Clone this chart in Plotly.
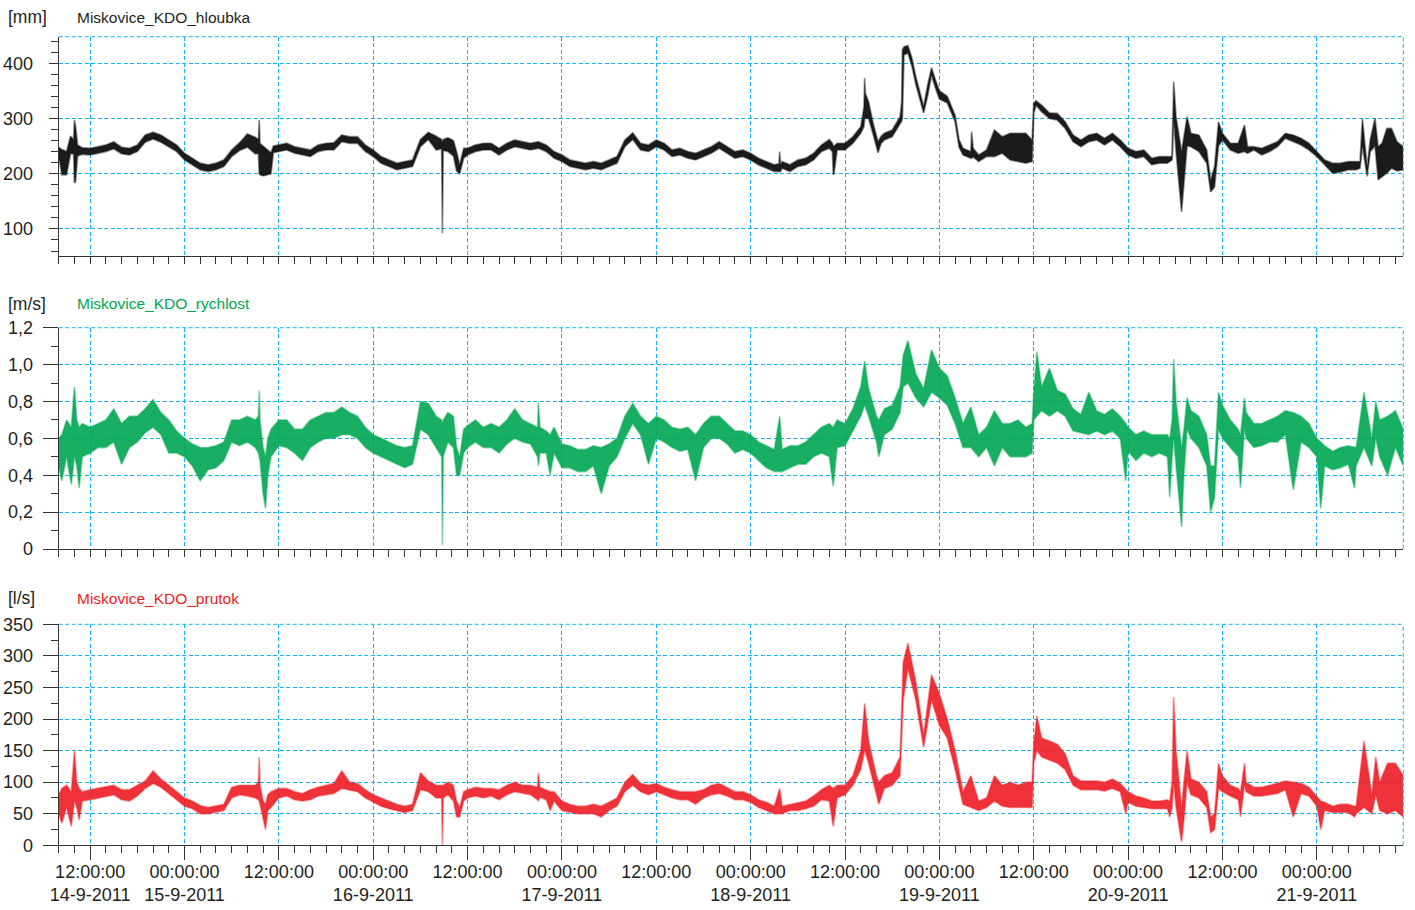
import plotly.graph_objects as go
from datetime import datetime, timedelta

# ---------------- data (hours after 14-9-2011 08:00) ----------------
DEPTH_T = [0, 0.4, 1, 1.5, 1.9, 2.0, 2.15, 2.4, 3, 4, 5, 6, 7, 8, 9, 10, 11, 12, 13, 14, 15, 16, 17, 18, 19, 20,
           21, 22, 23, 24, 25, 25.4, 25.5, 25.6, 26, 27, 27.3, 28, 29, 30, 31, 32, 33, 34, 35, 36, 37, 38, 39, 40,
           41, 42, 43, 44, 45, 46, 47, 48, 48.7, 48.8, 48.9, 49.5, 50.2, 50.6, 51, 51.5, 52, 53, 54, 55, 56, 57,
           58, 59, 60, 61, 62, 63, 64, 65, 66, 67, 68, 69, 70, 71, 72, 73, 74, 75, 76, 77, 78, 79, 80, 81, 82,
           83, 84, 85, 86, 87, 88, 89, 90, 91, 91.6, 91.7, 91.8, 92, 93, 94, 95, 96, 97, 98, 98.4, 98.5, 98.6,
           99, 100, 101, 102, 102.4, 102.5, 102.6, 103, 103.6, 104.2, 104.6, 105, 106, 107, 107.2, 107.3, 107.5,
           108, 108.5, 109, 109.6, 110, 110.5, 111, 111.5, 112, 113, 114, 114.5, 115, 116, 116.1, 116.3, 117, 118,
           119, 120, 121, 122, 123, 123.8, 124, 124.3, 125, 126, 127, 128, 129, 130, 131, 132, 133, 134, 135,
           136, 137, 138, 139, 140, 141, 141.6, 141.8, 142.1, 142.8, 143.5, 144, 145, 146, 146.5, 147, 147.5,
           148, 149, 150, 150.8, 151.2, 152, 153, 154, 155, 156, 157, 158, 159, 160, 161, 162, 163, 164, 165,
           165.5, 165.8, 166.4, 166.8, 167.4, 167.8, 168.3, 168.9, 169.5, 170.2, 171]
DEPTH_LO = [232, 198, 198, 236, 236, 183, 186, 232, 235, 234, 237, 240, 245, 236, 234, 240, 257, 263, 257, 249,
            240, 225, 216, 207, 204, 207, 213, 231, 242, 248, 236, 236, 200, 198, 196, 200, 238, 240, 243, 237,
            234, 231, 240, 243, 243, 258, 255, 255, 240, 231, 219, 213, 207, 210, 213, 249, 262, 243, 245, 92,
            242, 240, 232, 205, 200, 228, 234, 240, 243, 243, 234, 243, 249, 246, 243, 246, 240, 228, 222, 213,
            210, 207, 210, 207, 213, 219, 249, 262, 243, 240, 249, 243, 231, 234, 228, 225, 231, 237, 246, 237,
            228, 231, 225, 216, 210, 204, 204, 204, 204, 210, 204, 213, 216, 225, 240, 246, 240, 198, 200, 243,
            243, 255, 273, 285, 300, 300, 300, 270, 238, 255, 261, 267, 290, 295, 300, 415, 418, 395, 362, 330,
            310, 340, 378, 355, 335, 328, 294, 248, 234, 228, 228, 230, 222, 231, 231, 237, 225, 222, 219, 222,
            309, 324, 312, 300, 297, 282, 258, 249, 258, 261, 252, 261, 249, 234, 228, 231, 216, 219, 219, 225,
            300, 240, 131, 250, 249, 240, 219, 167, 176, 250, 261, 243, 237, 240, 237, 243, 234, 240, 249, 264,
            258, 252, 243, 231, 216, 201, 203, 207, 207, 210, 250, 195, 240, 250, 189, 195, 201, 210, 205, 207]
DEPTH_HI = [248, 244, 240, 268, 262, 297, 285, 252, 247, 246, 249, 252, 258, 248, 246, 252, 270, 275, 270, 261,
            252, 237, 228, 219, 216, 219, 225, 243, 256, 272, 266, 262, 297, 255, 250, 238, 250, 252, 255, 249,
            246, 243, 252, 255, 256, 270, 267, 267, 252, 243, 231, 225, 219, 222, 225, 262, 275, 268, 262, 258,
            262, 265, 260, 240, 216, 246, 246, 252, 255, 255, 246, 255, 261, 258, 255, 258, 252, 240, 234, 225,
            222, 219, 222, 219, 225, 231, 261, 274, 255, 252, 261, 255, 243, 246, 240, 237, 243, 249, 258, 249,
            240, 243, 237, 228, 222, 216, 218, 240, 216, 222, 216, 225, 228, 237, 252, 262, 255, 250, 250, 255,
            255, 267, 285, 320, 373, 345, 330, 290, 258, 268, 273, 279, 303, 330, 424, 430, 432, 410, 376, 345,
            322, 360, 392, 370, 350, 340, 306, 262, 246, 240, 276, 246, 234, 243, 279, 267, 273, 273, 273, 261,
            327, 332, 324, 310, 309, 294, 270, 261, 270, 273, 264, 273, 261, 246, 240, 243, 228, 231, 231, 231,
            367, 303, 240, 303, 273, 270, 243, 188, 213, 294, 273, 255, 255, 288, 249, 249, 246, 252, 258, 273,
            270, 264, 255, 240, 225, 219, 219, 222, 222, 222, 300, 212, 262, 300, 249, 255, 282, 282, 258, 249]

VEL_T = [0, 0.4, 1, 1.6, 2.0, 2.3, 2.6, 3, 4, 5, 6, 7, 8, 9, 10, 11, 12, 13, 14, 15, 16, 17, 18, 19, 20, 21, 22,
         23, 24, 25, 25.4, 25.5, 25.6, 26, 26.3, 26.6, 27, 28, 29, 30, 31, 32, 33, 34, 35, 36, 37, 38, 39, 40,
         41, 42, 43, 44, 45, 46, 47, 48, 48.7, 48.8, 48.9, 49.5, 50.2, 50.6, 51, 51.5, 52, 53, 54, 55, 56, 57,
         58, 59, 60, 60.9, 61, 61.2, 62, 62.5, 63, 64, 65, 66, 67, 68, 69, 70, 71, 72, 73, 74, 75, 76, 77, 78,
         79, 80, 81, 82, 83, 84, 85, 86, 87, 88, 89, 90, 91, 91.7, 92, 93, 94, 95, 96, 97, 98, 98.5, 99, 100,
         101, 102, 102.5, 103, 104, 104.3, 105, 106, 107, 107.4, 108, 109, 110, 111, 112, 113, 114, 115, 116,
         117, 118, 119, 120, 121, 122, 123, 123.8, 124, 124.4, 125, 126, 127, 128, 129, 130, 131, 132, 133,
         134, 135, 135.7, 136, 137, 138, 139, 140, 141, 141.3, 141.6, 141.8, 142.1, 142.8, 143.1, 143.5, 144,
         145, 146, 146.5, 147, 147.5, 148, 149, 150, 150.3, 150.8, 151, 152, 153, 154, 155, 156, 157, 158, 159,
         160, 160.5, 161, 162, 163, 164, 164.8, 165, 166, 167, 167.5, 168, 169, 170, 171]
VEL_LO = [0.45, 0.37, 0.50, 0.35, 0.50, 0.45, 0.33, 0.50, 0.52, 0.55, 0.55, 0.58, 0.46, 0.55, 0.58, 0.63, 0.66,
          0.62, 0.52, 0.52, 0.50, 0.45, 0.37, 0.43, 0.44, 0.48, 0.58, 0.56, 0.58, 0.55, 0.52, 0.50, 0.48, 0.30,
          0.22, 0.40, 0.50, 0.56, 0.55, 0.52, 0.48, 0.55, 0.58, 0.60, 0.60, 0.62, 0.62, 0.60, 0.55, 0.52, 0.50,
          0.48, 0.46, 0.44, 0.46, 0.65, 0.62, 0.55, 0.50, 0.02, 0.50, 0.58, 0.55, 0.40, 0.40, 0.52, 0.55, 0.58,
          0.55, 0.55, 0.52, 0.57, 0.60, 0.58, 0.57, 0.50, 0.45, 0.52, 0.52, 0.40, 0.52, 0.44, 0.44, 0.42, 0.42,
          0.45, 0.30, 0.45, 0.50, 0.60, 0.68, 0.62, 0.46, 0.60, 0.58, 0.55, 0.53, 0.54, 0.37, 0.55, 0.60, 0.60,
          0.57, 0.52, 0.54, 0.52, 0.48, 0.44, 0.42, 0.42, 0.42, 0.44, 0.46, 0.46, 0.50, 0.52, 0.50, 0.34, 0.55,
          0.56, 0.64, 0.72, 0.78, 0.72, 0.58, 0.50, 0.62, 0.65, 0.74, 0.88, 0.90, 0.82, 0.77, 0.85, 0.82, 0.78,
          0.68, 0.55, 0.55, 0.50, 0.55, 0.45, 0.55, 0.50, 0.50, 0.50, 0.52, 0.70, 0.72, 0.75, 0.72, 0.75, 0.72,
          0.64, 0.63, 0.62, 0.64, 0.62, 0.64, 0.60, 0.37, 0.53, 0.48, 0.52, 0.50, 0.52, 0.50, 0.28, 0.50, 0.60,
          0.45, 0.12, 0.40, 0.65, 0.60, 0.55, 0.45, 0.20, 0.28, 0.65, 0.60, 0.55, 0.50, 0.33, 0.65, 0.60, 0.55,
          0.56, 0.58, 0.58, 0.62, 0.32, 0.58, 0.55, 0.50, 0.22, 0.45, 0.43, 0.44, 0.46, 0.33, 0.45, 0.55, 0.45,
          0.60, 0.50, 0.40, 0.55, 0.45]
VEL_HI = [0.60, 0.62, 0.70, 0.66, 0.88, 0.70, 0.66, 0.68, 0.66, 0.68, 0.70, 0.76, 0.68, 0.72, 0.72, 0.76, 0.81,
          0.74, 0.70, 0.64, 0.60, 0.57, 0.55, 0.55, 0.56, 0.58, 0.70, 0.70, 0.72, 0.70, 0.72, 0.86, 0.70, 0.55,
          0.50, 0.60, 0.65, 0.70, 0.70, 0.65, 0.65, 0.70, 0.72, 0.74, 0.74, 0.77, 0.74, 0.72, 0.66, 0.62, 0.60,
          0.58, 0.56, 0.55, 0.56, 0.80, 0.79, 0.72, 0.70, 0.68, 0.70, 0.74, 0.72, 0.55, 0.50, 0.65, 0.67, 0.70,
          0.66, 0.68, 0.66, 0.70, 0.76, 0.70, 0.68, 0.66, 0.80, 0.66, 0.64, 0.62, 0.66, 0.57, 0.56, 0.54, 0.54,
          0.56, 0.55, 0.57, 0.60, 0.72, 0.79, 0.72, 0.68, 0.72, 0.70, 0.66, 0.65, 0.66, 0.62, 0.68, 0.72, 0.72,
          0.68, 0.64, 0.64, 0.62, 0.58, 0.56, 0.54, 0.72, 0.54, 0.56, 0.56, 0.58, 0.62, 0.66, 0.68, 0.66, 0.70,
          0.68, 0.76, 0.88, 1.02, 0.87, 0.72, 0.70, 0.76, 0.78, 0.88, 1.05, 1.13, 0.95, 0.87, 1.08, 0.98, 0.94,
          0.82, 0.68, 0.77, 0.62, 0.66, 0.75, 0.68, 0.68, 0.70, 0.66, 0.68, 0.85, 1.07, 0.88, 0.98, 0.86, 0.84,
          0.76, 0.73, 0.85, 0.75, 0.73, 0.76, 0.72, 0.68, 0.66, 0.62, 0.64, 0.62, 0.62, 0.62, 0.60, 0.70, 1.03,
          0.80, 0.55, 0.65, 0.82, 0.75, 0.72, 0.62, 0.45, 0.45, 0.85, 0.78, 0.70, 0.65, 0.62, 0.82, 0.74, 0.68,
          0.68, 0.70, 0.72, 0.75, 0.74, 0.72, 0.68, 0.60, 0.58, 0.56, 0.53, 0.55, 0.56, 0.55, 0.55, 0.85, 0.60,
          0.80, 0.70, 0.72, 0.75, 0.65]

FLOW_T = VEL_T
FLOW_LO = [50, 35, 60, 30, 70, 60, 40, 70, 72, 75, 78, 80, 72, 70, 78, 90, 98, 92, 82, 72, 62, 58, 50, 50, 52,
           55, 75, 80, 78, 75, 72, 70, 65, 40, 25, 55, 60, 75, 78, 72, 70, 72, 78, 80, 82, 90, 88, 85, 75, 68,
           62, 58, 55, 52, 55, 88, 85, 75, 75, 0, 75, 80, 70, 45, 45, 70, 75, 78, 75, 78, 72, 80, 85, 82, 80,
           72, 70, 76, 72, 55, 70, 55, 52, 50, 50, 50, 45, 55, 62, 85, 95, 85, 80, 85, 80, 75, 72, 72, 65, 75,
           80, 82, 78, 72, 72, 68, 60, 55, 50, 50, 50, 55, 55, 58, 62, 72, 70, 30, 75, 80, 95, 120, 150, 130,
           80, 65, 90, 95, 110, 230, 280, 230, 155, 230, 190, 170, 120, 65, 60, 55, 60, 70, 62, 60, 60, 60, 60,
           130, 150, 140, 135, 130, 120, 95, 88, 88, 88, 86, 90, 85, 50, 68, 62, 60, 58, 58, 58, 45, 60, 100,
           60, 5, 40, 100, 80, 75, 60, 20, 25, 90, 85, 78, 72, 45, 95, 85, 78, 78, 80, 82, 88, 45, 82, 78, 62,
           25, 55, 52, 52, 52, 45, 50, 60, 50, 80, 55, 50, 55, 45]
FLOW_HI = [80, 90, 95, 85, 150, 100, 90, 85, 88, 90, 92, 95, 88, 88, 95, 102, 118, 105, 95, 85, 75, 70, 63, 60,
           62, 65, 92, 95, 95, 95, 100, 140, 95, 70, 65, 80, 85, 90, 90, 85, 82, 88, 92, 95, 98, 118, 100, 98,
           88, 80, 75, 70, 65, 62, 65, 115, 102, 95, 95, 95, 95, 100, 95, 70, 60, 85, 88, 92, 90, 90, 88, 95,
           100, 95, 95, 92, 115, 92, 88, 85, 85, 70, 65, 62, 62, 65, 62, 68, 75, 100, 112, 98, 95, 98, 92, 88,
           85, 85, 85, 88, 95, 98, 92, 85, 85, 80, 72, 68, 62, 90, 62, 65, 68, 70, 78, 88, 95, 90, 95, 95, 110,
           150, 225, 165, 110, 100, 110, 115, 140, 290, 320, 260, 175, 270, 240, 200, 150, 85, 110, 70, 75, 110,
           95, 100, 95, 100, 100, 160, 205, 170, 165, 160, 145, 110, 102, 102, 102, 100, 105, 98, 90, 85, 78,
           75, 70, 70, 72, 70, 100, 235, 150, 60, 100, 150, 105, 100, 85, 45, 50, 130, 110, 95, 90, 85, 130,
           100, 92, 92, 95, 98, 102, 100, 98, 92, 78, 70, 68, 62, 65, 65, 62, 62, 165, 80, 140, 100, 130, 130,
           110]

Y1_TICKS = [100, 200, 300, 400]
Y2_TICKS = [0, 0.2, 0.4, 0.6, 0.8, 1.0, 1.2]
Y2_TEXT = ["0", "0,2", "0,4", "0,6", "0,8", "1,0", "1,2"]
Y3_TICKS = [0, 50, 100, 150, 200, 250, 300, 350]

START = datetime(2011, 9, 14, 8, 0)
END = datetime(2011, 9, 21, 11, 0)
X_TICK_HOURS = [4, 16, 28, 40, 52, 64, 76, 88, 100, 112, 124, 136, 148, 160]
X_TICK_TEXT = ["12:00:00<br>14-9-2011", "00:00:00<br>15-9-2011", "12:00:00", "00:00:00<br>16-9-2011",
               "12:00:00", "00:00:00<br>17-9-2011", "12:00:00", "00:00:00<br>18-9-2011", "12:00:00",
               "00:00:00<br>19-9-2011", "12:00:00", "00:00:00<br>20-9-2011", "12:00:00",
               "00:00:00<br>21-9-2011"]

# ---------------- styling ----------------
W, H = 1415, 910
FONT = "Liberation Sans, Arial, Helvetica, sans-serif"
TXT = "#231f20"
GRID = "#14b4ee"
DASH = "4px,2.5px"
AX = "#333333"

def tt(hours):
    return [START + timedelta(hours=h) for h in hours]

X_DOM = [58.7 / W, 1403.3 / W]
Y_DOMS = [
    [1 - 256.0 / H, 1 - 36.7 / H],
    [1 - 549.0 / H, 1 - 327.7 / H],
    [1 - 845.3 / H, 1 - 624.3 / H],
]

fig = go.Figure()

series = [
    (DEPTH_T, DEPTH_LO, DEPTH_HI, "rgba(20,20,20,0.45)", "rgba(15,15,15,0.95)", "x", "y"),
    (VEL_T, VEL_LO, VEL_HI, "rgba(0,166,81,0.40)", "rgba(0,166,81,0.90)", "x2", "y2"),
    (FLOW_T, FLOW_LO, FLOW_HI, "rgba(237,28,36,0.40)", "rgba(237,28,36,0.90)", "x3", "y3"),
]
for t, lo, hi, edge, fillc, xa, ya in series:
    x = tt(t)
    fig.add_trace(go.Scatter(x=x, y=lo, mode="lines", line=dict(color=edge, width=1.8),
                             xaxis=xa, yaxis=ya, showlegend=False, hoverinfo="skip"))
    fig.add_trace(go.Scatter(x=x, y=hi, mode="lines", line=dict(color=edge, width=1.8),
                             fill="tonexty", fillcolor=fillc,
                             xaxis=xa, yaxis=ya, showlegend=False, hoverinfo="skip"))

tickfont = dict(family=FONT, size=18, color=TXT)

def xaxis_def(ya, labels):
    return dict(
        domain=X_DOM, anchor=ya, type="date", range=[START, END],
        tickmode="array", tickvals=tt(X_TICK_HOURS),
        ticktext=X_TICK_TEXT if labels else [""] * len(X_TICK_HOURS),
        showticklabels=labels, tickfont=tickfont,
        ticks="outside", ticklen=14, tickwidth=1.2, tickcolor=AX,
        showline=True, linecolor=AX, linewidth=1.2,
        showgrid=True, gridcolor=GRID, gridwidth=1, griddash=DASH,
        zeroline=False, automargin=False, ticklabelstandoff=-4,
        minor=dict(tickmode="linear", tick0=START, dtick=7200000, ticks="outside", ticklen=7,
                   tickwidth=1, tickcolor=AX, showgrid=False),
    )

def yaxis_def(xa, dom, rng, vals, text, major_len, minor_dtick, standoff):
    return dict(
        domain=dom, anchor=xa, range=rng,
        tickmode="array", tickvals=vals, ticktext=text, tickfont=tickfont,
        ticks="outside", ticklen=major_len, tickwidth=1.2, tickcolor=AX,
        showline=True, linecolor=AX, linewidth=1.2,
        showgrid=True, gridcolor=GRID, gridwidth=1, griddash=DASH,
        zeroline=False, automargin=False, ticklabelstandoff=standoff,
        minor=dict(tickmode="linear", tick0=0, dtick=minor_dtick, ticks="outside", ticklen=7,
                   tickwidth=1, tickcolor=AX, showgrid=False),
    )

fig.update_layout(
    width=W, height=H,
    margin=dict(l=0, r=0, t=0, b=0, pad=0),
    paper_bgcolor="white", plot_bgcolor="white",
    showlegend=False,
    xaxis=xaxis_def("y", False),
    xaxis2=xaxis_def("y2", False),
    xaxis3=xaxis_def("y3", True),
    yaxis=yaxis_def("x", Y_DOMS[0], [51, 448], Y1_TICKS, [str(v) for v in Y1_TICKS], 9, 20, 12),
    yaxis2=yaxis_def("x2", Y_DOMS[1], [0, 1.2], Y2_TICKS, Y2_TEXT, 15, 0.1, 6),
    yaxis3=yaxis_def("x3", Y_DOMS[2], [0, 350], Y3_TICKS, [str(v) for v in Y3_TICKS], 15, 25, 6),
)

# dashed top and right borders of every panel
for xa, ya in [("x", "y"), ("x2", "y2"), ("x3", "y3")]:
    fig.add_shape(type="line", xref=f"{xa} domain", yref=f"{ya} domain", x0=0, x1=1, y0=1, y1=1,
                  line=dict(color=GRID, width=1, dash=DASH), layer="above")
    fig.add_shape(type="line", xref=f"{xa} domain", yref=f"{ya} domain", x0=1, x1=1, y0=0, y1=1,
                  line=dict(color=GRID, width=1, dash=DASH), layer="above")

headers = [
    (17, "[mm]", "Miskovice_KDO_hloubka", TXT),
    (304, "[m/s]", "Miskovice_KDO_rychlost", "#00a651"),
    (598, "[l/s]", "Miskovice_KDO_prutok", "#ed1c24"),
]
for ypx, unit, name, col in headers:
    fig.add_annotation(xref="paper", yref="paper", x=6 / W, y=1 - ypx / H, xanchor="left", yanchor="middle",
                       text=unit, showarrow=False, font=dict(family=FONT, size=17.5, color=TXT))
    fig.add_annotation(xref="paper", yref="paper", x=75 / W, y=1 - ypx / H, xanchor="left", yanchor="middle",
                       text=name, showarrow=False, font=dict(family=FONT, size=15.5, color=col))

fig.write_html("out.html", config={"displayModeBar": False},
               post_script="document.body.style.margin='0';")
